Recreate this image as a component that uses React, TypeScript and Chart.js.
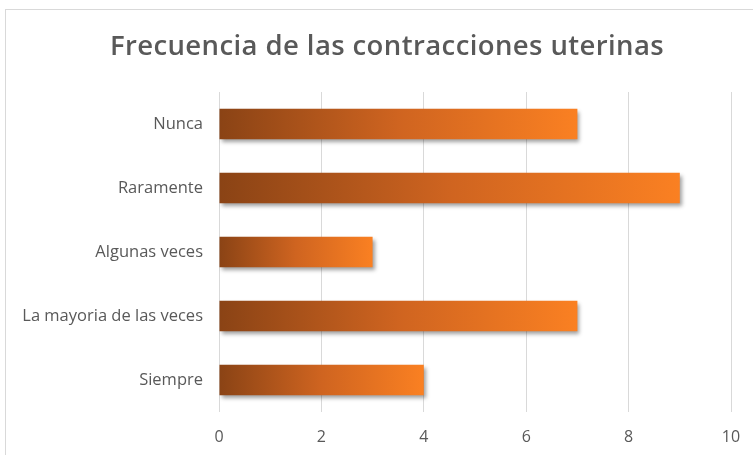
import React, { useEffect, useRef } from "react";
import { Chart, registerables } from "chart.js";

Chart.register(...registerables);

const TITLE = "Frecuencia de las contracciones uterinas";
const CATEGORIES = ["Nunca", "Raramente", "Algunas veces", "La mayoria de las veces", "Siempre"];
const VALUES = [7, 9, 3, 7, 4];
const X_MIN = 0;
const X_MAX = 10;
const X_STEP = 2;

const shadowPlugin = {
  id: "barShadow",
  beforeDatasetsDraw(chart: any) {
    const c = chart.ctx;
    c.save();
    c.shadowColor = "rgba(0,0,0,0.38)";
    c.shadowBlur = 4;
    c.shadowOffsetX = 2;
    c.shadowOffsetY = 3;
  },
  afterDatasetsDraw(chart: any) {
    chart.ctx.restore();
  },
};

const titlePlugin = {
  id: "customTitle",
  afterDraw(chart: any) {
    const c = chart.ctx;
    c.save();
    c.font = "600 27.5px 'Open Sans'";
    c.fillStyle = "#595959";
    c.textAlign = "center";
    c.textBaseline = "middle";
    try {
      (c as any).letterSpacing = "0.4px";
    } catch (e) {}
    c.fillText(TITLE, 387, 47);
    c.restore();
  },
};

export default function App() {
  const ref = useRef<HTMLCanvasElement | null>(null);

  useEffect(() => {
    if (!ref.current) return;
    const chart = new Chart(ref.current, {
      type: "bar",
      data: {
        labels: CATEGORIES,
        datasets: [
          {
            data: VALUES,
            backgroundColor: (ctx: any) => {
              const ch = ctx.chart;
              const xs = ch.scales && ch.scales.x;
              if (!ch.chartArea || !xs || ctx.raw === undefined) return "#d2691e";
              const x0 = xs.getPixelForValue(0);
              const x1 = xs.getPixelForValue(ctx.raw);
              const g = ch.ctx.createLinearGradient(x0, 0, x1 + 0.01, 0);
              g.addColorStop(0, "#8a4315");
              g.addColorStop(0.5, "#cf6420");
              g.addColorStop(1, "#fa8022");
              return g;
            },
            borderWidth: 0,
            barPercentage: 0.48,
            categoryPercentage: 1,
          },
        ],
      },
      options: {
        indexAxis: "y",
        responsive: false,
        animation: false,
        layout: { padding: { left: 0, right: 22, top: 92, bottom: 0 } },
        plugins: {
          legend: { display: false },
          tooltip: { enabled: false },
          title: { display: false },
        },
        scales: {
          x: {
            min: X_MIN,
            max: X_MAX,
            ticks: {
              stepSize: X_STEP,
              color: "#595959",
              font: { family: "'Open Sans'", size: 16 },
              padding: 16,
            },
            grid: { color: "#d9d9d9", lineWidth: 1, drawTicks: false },
            border: { display: false },
            afterFit: (s: any) => {
              s.height = 43;
              s.paddingLeft = 0;
              s.paddingRight = 0;
            },
          },
          y: {
            ticks: {
              color: "#595959",
              font: { family: "'Open Sans'", size: 16.5 },
              padding: 16,
            },
            grid: { display: false, drawTicks: false },
            border: { display: false },
            afterFit: (s: any) => {
              s.width = 219;
              s.paddingTop = 0;
              s.paddingBottom = 0;
            },
          },
        },
      },
      plugins: [shadowPlugin, titlePlugin],
    } as any);
    return () => chart.destroy();
  }, []);

  return (
    <div
      style={{
        position: "fixed",
        left: 0,
        top: 0,
        width: 753,
        height: 455,
        overflow: "hidden",
        background: "#fff",
      }}
    >
      <div
        style={{
          position: "absolute",
          left: 5,
          top: 9,
          width: 800,
          height: 500,
          borderLeft: "1px solid #d9d9d9",
          borderTop: "1px solid #d9d9d9",
        }}
      />
      <canvas
        ref={ref}
        width={753}
        height={455}
        style={{ position: "absolute", left: 0, top: 0, display: "block" }}
      />
    </div>
  );
}
